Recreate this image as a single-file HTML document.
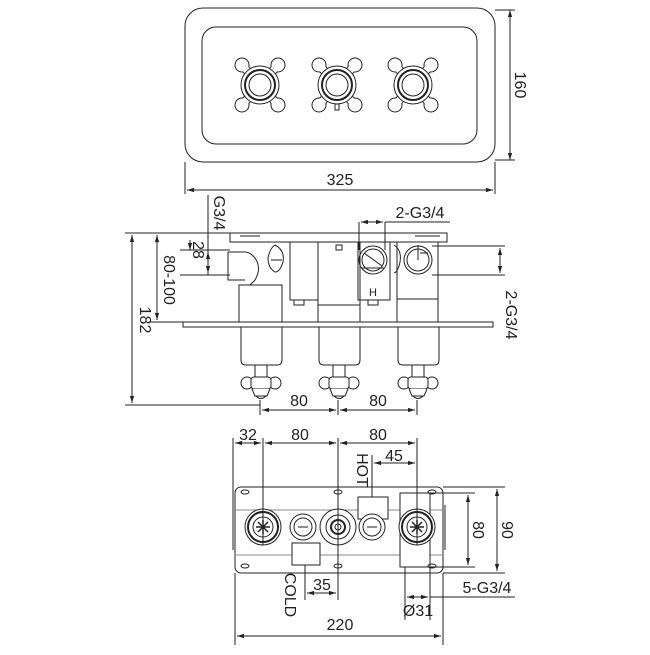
<!DOCTYPE html>
<html><head><meta charset="utf-8"><style>html,body{margin:0;padding:0;background:#fff}</style></head>
<body>
<svg width="650" height="650" viewBox="0 0 650 650" xmlns="http://www.w3.org/2000/svg" font-family="Liberation Sans, sans-serif" font-size="16" fill="none" stroke="#222" stroke-width="1">
<defs>
<marker id="a" viewBox="0 0 10 10" refX="10" refY="5" markerWidth="7" markerHeight="7" orient="auto-start-reverse"><path d="M0,2 L10,5 L0,8z" fill="#222" stroke="none"/></marker>
<g id="hx">
<path d="M-18,-20 L18,20 M18,-20 L-18,20" stroke="#222" stroke-width="9"/>
<circle cx="-18" cy="-20" r="7" fill="#fff"/><circle cx="18" cy="-20" r="7" fill="#fff"/><circle cx="-18" cy="20" r="7" fill="#fff"/><circle cx="18" cy="20" r="7" fill="#fff"/>
<path d="M-18,-20 L18,20 M18,-20 L-18,20" stroke="#fff" stroke-width="7"/>
<circle r="19" fill="#fff"/><circle r="15" stroke-width="2"/><circle r="11"/>
</g>
<g id="hs">
<circle cx="-14" cy="0" r="6" fill="#fff"/><circle cx="14" cy="0" r="6" fill="#fff"/>
<rect x="-10" y="-6" width="20" height="12" rx="3" fill="#fff"/>
<path d="M-9,6 L-6,13 L6,13 L9,6" fill="#fff"/>
<path d="M-5,13 Q0,18 5,13"/>
</g>
<g id="bv">
<circle r="18"/><circle r="15" stroke-width="2"/><circle r="10"/><path d="M-7,0 H7 M0,-7 V7 M-5,-5 L5,5 M-5,5 L5,-5" stroke-width="1.5"/>
</g>
</defs>

<!-- TOP VIEW -->
<rect x="185" y="8" width="310" height="154" rx="18"/>
<rect x="202" y="27" width="275" height="117" rx="14"/>
<use href="#hx" x="260" y="85"/><use href="#hx" x="337" y="85"/><use href="#hx" x="413" y="85"/>
<rect x="335" y="104" width="4" height="6"/>
<path d="M185,162 V194 M495,162 V194 M495,10 H515 M495,160 H515"/>
<line x1="187" y1="190" x2="493" y2="190" marker-start="url(#a)" marker-end="url(#a)"/>
<line x1="510" y1="10" x2="510" y2="160" marker-start="url(#a)" marker-end="url(#a)"/>
<text x="340" y="185" fill="#222" stroke="none" text-anchor="middle">325</text>
<text transform="translate(515,85) rotate(90)" fill="#222" stroke="none" text-anchor="middle">160</text>

<!-- SIDE VIEW -->
<rect x="230" y="233" width="217" height="9"/>
<path d="M240,236 H260 M415,236 H440"/>
<rect x="183" y="322" width="310" height="5"/>
<path d="M228,252 H245 Q250,252 255,258 Q262,268 255,280 L250,285 M228,252 V280 H245"/>
<rect x="239" y="285" width="43" height="37"/>
<path d="M275,245 Q285,250 283,262 Q280,272 275,272 Q268,268 268,258 Q270,248 275,245z M271,260 H282"/>
<rect x="290" y="242" width="28" height="58"/><rect x="294" y="300" width="10" height="5"/>
<rect x="318" y="242" width="42" height="80"/><path d="M318,305 H360"/><rect x="336" y="245" width="6" height="5"/>
<rect x="358" y="242" width="32" height="58"/><rect x="368" y="300" width="10" height="5"/>
<circle cx="373" cy="260" r="14"/><circle cx="373" cy="260" r="11"/><path d="M364,253 L382,266 M362,268 H384"/>
<text x="373" y="296" fill="#222" stroke="none" font-size="11" text-anchor="middle">H</text>
<path d="M394,245 Q402,250 400,262 Q398,272 394,273"/>
<rect x="397" y="242" width="41" height="57"/><path d="M397,299 V322 M438,299 V322"/>
<circle cx="418" cy="260" r="14" fill="#fff"/><circle cx="418" cy="260" r="11"/><path d="M420,253 H428"/>
<g id="cyl"><path d="M241,327 V360 Q241,365 246,365 H277 Q282,365 282,360 V327"/><rect x="255" y="365" width="12" height="12"/></g>
<use href="#cyl" x="78"/><use href="#cyl" x="157"/>
<use href="#hs" x="261" y="383"/><use href="#hs" x="339" y="383"/><use href="#hs" x="418" y="383"/>
<path d="M125,233 H232 M150,322 H183 M180,250 H230 M180,275 H230 M125,405 H260 M260,400 V415 M338,400 V415 M417,400 V415 M208,195 V275"/>
<line x1="132" y1="235" x2="132" y2="403" marker-start="url(#a)" marker-end="url(#a)"/>
<line x1="157" y1="235" x2="157" y2="320" marker-start="url(#a)" marker-end="url(#a)"/>
<line x1="190" y1="240" x2="190" y2="250" marker-end="url(#a)"/>
<line x1="208" y1="252" x2="208" y2="273" marker-start="url(#a)" marker-end="url(#a)"/>
<line x1="262" y1="410" x2="336" y2="410" marker-start="url(#a)" marker-end="url(#a)"/>
<line x1="340" y1="410" x2="415" y2="410" marker-start="url(#a)" marker-end="url(#a)"/>
<path d="M359,222 V250 M385,222 V250 M385,222 H450 M418,260 V245 M432,246 H505 M432,275 H505"/>
<line x1="361" y1="222" x2="383" y2="222" marker-start="url(#a)" marker-end="url(#a)"/>
<line x1="500" y1="248" x2="500" y2="273" marker-start="url(#a)" marker-end="url(#a)"/>
<text transform="translate(140,320) rotate(90)" fill="#222" stroke="none" text-anchor="middle">182</text>
<text transform="translate(164,280) rotate(90)" fill="#222" stroke="none" text-anchor="middle">80-100</text>
<text transform="translate(193,250) rotate(90)" fill="#222" stroke="none" text-anchor="middle">28</text>
<text transform="translate(214,213) rotate(90)" fill="#222" stroke="none" text-anchor="middle">G3/4</text>
<text transform="translate(506,315) rotate(90)" fill="#222" stroke="none" text-anchor="middle">2-G3/4</text>
<text x="420" y="218" fill="#222" stroke="none" text-anchor="middle">2-G3/4</text>
<text x="299" y="406" fill="#222" stroke="none" text-anchor="middle">80</text>
<text x="378" y="406" fill="#222" stroke="none" text-anchor="middle">80</text>

<!-- BOTTOM VIEW -->
<rect x="235" y="487" width="208" height="86" rx="6"/>
<path d="M235,510 H443 M235,555 H443" stroke="#888"/>
<path d="M233,505 V550 M445,505 V550"/>
<rect x="358" y="497" width="30" height="22" fill="#fff"/>
<rect x="400" y="493" width="30" height="74" fill="#fff"/>
<rect x="292" y="543" width="28" height="22" fill="#fff"/>
<ellipse cx="245" cy="492" rx="4" ry="2"/><ellipse cx="338" cy="492" rx="4" ry="2"/><ellipse cx="432" cy="492" rx="4" ry="2"/>
<ellipse cx="245" cy="566" rx="4" ry="2"/><ellipse cx="338" cy="566" rx="4" ry="2"/><ellipse cx="432" cy="566" rx="4" ry="2"/>
<g fill="#fff"><use href="#bv" x="263" y="527"/><use href="#bv" x="417" y="527"/></g>
<circle cx="338" cy="527" r="18" fill="#fff"/><circle cx="338" cy="527" r="12"/><circle cx="338" cy="527" r="7" stroke-width="2"/><circle cx="338" cy="527" r="3"/>
<circle cx="303" cy="527" r="13" fill="#fff"/><circle cx="303" cy="527" r="9"/><path d="M298,527 H308"/>
<circle cx="372" cy="527" r="13" fill="#fff"/><circle cx="372" cy="527" r="9"/><path d="M367,527 H377"/>
<path d="M233,438 V505 M263,438 V545 M338,438 V600 M417,438 V545 M372,455 V497 M305,565 V600 M405,567 V620 M430,567 V620 M443,573 V645 M235,573 V645 M430,493 H475 M443,487 H505 M430,567 H475 M443,573 H505 M430,597 H515"/>
<line x1="235" y1="443" x2="261" y2="443" marker-start="url(#a)" marker-end="url(#a)"/>
<line x1="265" y1="443" x2="336" y2="443" marker-start="url(#a)" marker-end="url(#a)"/>
<line x1="340" y1="443" x2="415" y2="443" marker-start="url(#a)" marker-end="url(#a)"/>
<line x1="374" y1="463" x2="415" y2="463" marker-start="url(#a)" marker-end="url(#a)"/>
<line x1="468" y1="495" x2="468" y2="565" marker-start="url(#a)" marker-end="url(#a)"/>
<line x1="497" y1="489" x2="497" y2="571" marker-start="url(#a)" marker-end="url(#a)"/>
<line x1="307" y1="593" x2="336" y2="593" marker-start="url(#a)" marker-end="url(#a)"/>
<line x1="407" y1="597" x2="428" y2="597" marker-start="url(#a)" marker-end="url(#a)"/>
<line x1="237" y1="636" x2="441" y2="636" marker-start="url(#a)" marker-end="url(#a)"/>
<text x="248" y="440" fill="#222" stroke="none" text-anchor="middle">32</text>
<text x="300" y="440" fill="#222" stroke="none" text-anchor="middle">80</text>
<text x="378" y="440" fill="#222" stroke="none" text-anchor="middle">80</text>
<text x="394" y="461" fill="#222" stroke="none" text-anchor="middle">45</text>
<text transform="translate(357,470) rotate(90)" fill="#222" stroke="none" text-anchor="middle">HOT</text>
<text transform="translate(285,595) rotate(90)" fill="#222" stroke="none" text-anchor="middle">COLD</text>
<text x="322" y="590" fill="#222" stroke="none" text-anchor="middle">35</text>
<text transform="translate(473,530) rotate(90)" fill="#222" stroke="none" text-anchor="middle">80</text>
<text transform="translate(502,530) rotate(90)" fill="#222" stroke="none" text-anchor="middle">90</text>
<text x="487" y="593" fill="#222" stroke="none" text-anchor="middle">5-G3/4</text>
<text x="418" y="616" fill="#222" stroke="none" text-anchor="middle">Ø31</text>
<text x="340" y="630" fill="#222" stroke="none" text-anchor="middle">220</text>
</svg>
</body></html>
